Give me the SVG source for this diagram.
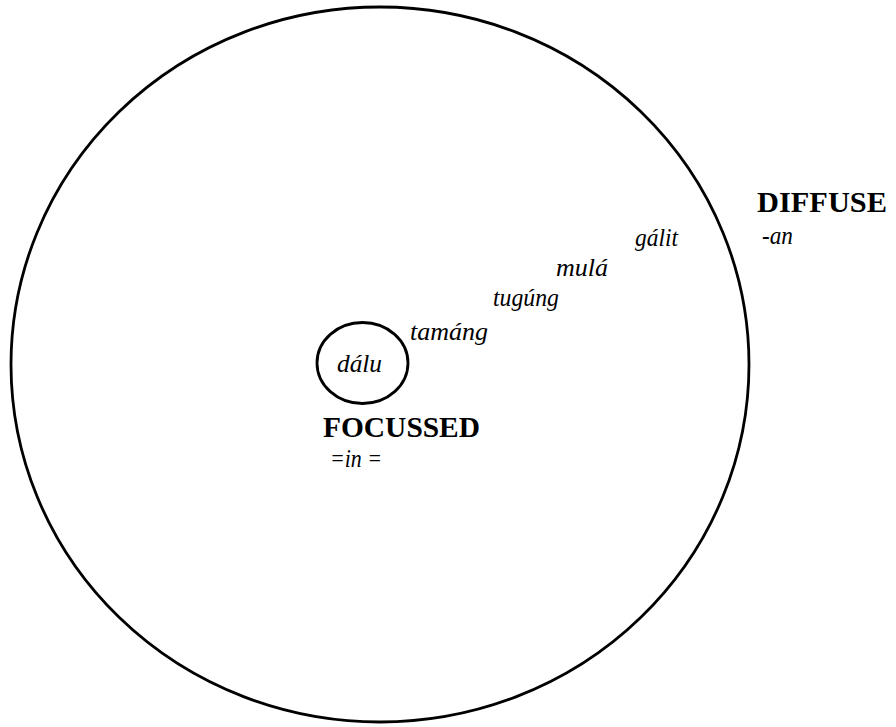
<svg xmlns="http://www.w3.org/2000/svg" width="896" height="727" viewBox="0 0 896 727">
<style>
.ring{fill:none;stroke:#000;stroke-width:2.8}
.it{font-family:"Liberation Serif","Times New Roman",serif;font-style:italic;font-size:25px;fill:#000}
.bd{font-family:"Liberation Serif","Times New Roman",serif;font-weight:bold;font-size:29px;fill:#000}
</style>
<rect width="896" height="727" fill="#fff"/>
<g id="diffuse-region">
<ellipse class="ring" cx="380" cy="364.5" rx="369" ry="357.5"/>
</g>
<g id="focussed-core">
<ellipse class="ring" cx="362.5" cy="363" rx="45.5" ry="40.5"/>
<text class="it" x="337" y="372" textLength="45" lengthAdjust="spacingAndGlyphs">dálu</text>
</g>
<g id="labels">
<text class="bd" x="323" y="437" textLength="157" lengthAdjust="spacingAndGlyphs">FOCUSSED</text>
<text class="it" x="330" y="467" textLength="52" lengthAdjust="spacingAndGlyphs">=in =</text>
<text class="bd" x="757" y="212" textLength="130" lengthAdjust="spacingAndGlyphs">DIFFUSE</text>
<text class="it" x="762" y="244" textLength="31" lengthAdjust="spacingAndGlyphs">-an</text>
</g>
<g id="gradient-words">
<text class="it" x="410" y="340" textLength="78" lengthAdjust="spacingAndGlyphs">tamáng</text>
<text class="it" x="493" y="306" textLength="66" lengthAdjust="spacingAndGlyphs">tugúng</text>
<text class="it" x="556" y="276" textLength="52" lengthAdjust="spacingAndGlyphs">mulá</text>
<text class="it" x="635" y="246" textLength="43" lengthAdjust="spacingAndGlyphs">gálit</text>
</g>
</svg>
